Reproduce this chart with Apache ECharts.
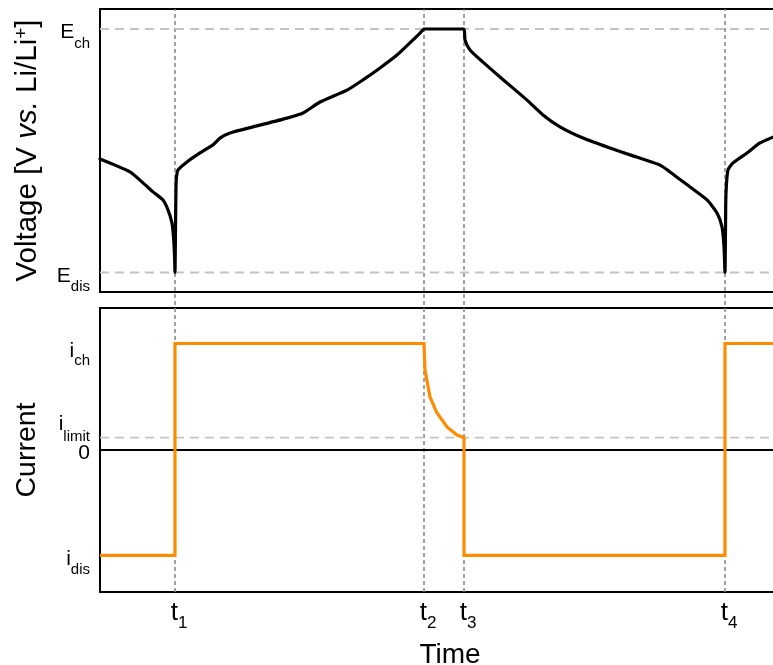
<!DOCTYPE html>
<html>
<head>
<meta charset="utf-8">
<script src="https://cdn.jsdelivr.net/npm/echarts@6/dist/echarts.min.js"></script>
<style>
html,body{margin:0;padding:0;background:#fff;}
#chart{width:773px;height:665px;}
</style>
</head>
<body>
<div id="chart"></div>
<script>
// ---- Data (time in arbitrary units, voltage normalised E_dis=0, E_ch=1; current normalised i_ch=1) ----
const timeV = [0,30,43,53,63,68,72,73.5,74.5,75,75.5,76,76.5,78,87,100,113,120,130,153,187,203,220,247,263,280,297,313,323,324,
  364,365,370,383,400,427,443,460,483,510,530,560,570,590,607,617,622,624,625,625.5,626,628,633,647,660,673];
const voltage = [0.466,0.413,0.368,0.331,0.298,0.257,0.203,0.146,0.072,0,0.175,0.351,0.392,0.421,0.454,0.491,0.524,0.552,0.573,0.598,0.634,0.655,0.700,0.749,0.791,0.840,0.893,0.955,0.996,1,
  1,0.955,0.914,0.864,0.803,0.708,0.647,0.598,0.552,0.511,0.483,0.441,0.413,0.351,0.298,0.244,0.187,0.105,0,0.175,0.326,0.421,0.450,0.491,0.532,0.556];

const timeI = [0,75,75,324,325,330,337,347,357,364,364,625,625,700];
const current = [-0.99,-0.99,1,1,0.751,0.498,0.347,0.216,0.141,0.117,-0.99,-0.99,1,1];

const eventTimes = [75,324,364,625];
const timeTickMain = ['t','t','t','t'];
const timeTickSub = ['1','2','3','4'];

const voltageTickValues = [0,1];
const voltageTickMain = ['E','E'];
const voltageTickSub = ['dis','ch'];

const currentTickValues = [-0.99,0,0.117,1];
const currentTickMain = ['i','0','i','i'];
const currentTickSub = ['dis','','limit','ch'];

const voltageGuides = [0,1];      // E_dis, E_ch
const currentGuides = [0.117];    // i_limit
const currentZero = [0];

const xRange = [0,700];
const vRange = [-0.0801,1.0821];
const iRange = [-1.3333,1.3333];

// ---- Build ----
const FONT = "'Liberation Sans', Arial, sans-serif";
function idxOf(arr, v){ for(let i=0;i<arr.length;i++){ if(Math.abs(arr[i]-v)<1e-6) return i; } return -1; }
function zip(xs, ys){ return xs.map((x,i)=>[x,ys[i]]); }

// middle-aligned token; text centre shifted by d px (positive = down)
function shift(fs, d){
  return {fontSize:fs, lineHeight:20, padding: d>=0 ? [2*d,0,0,0] : [0,0,-2*d,0], verticalAlign:'middle', fontFamily:FONT, color:'#000'};
}
const yRich = {
  m: shift(21, 3.5),
  s: shift(15, 14.5),
  z: shift(21, 3.5),
  mc: shift(21, 7.5),
  sc: shift(15, 17.5),
  ml: shift(21, -13.5),
  sl: shift(15, -1)
};
function yLabel(mainArr, subArr, valArr){
  return function(v){
    const i = idxOf(valArr, v);
    if(i<0) return '';
    const sub = subArr[i];
    if(!sub) return '{z|'+mainArr[i]+'}';
    if(sub==='limit') return '{ml|'+mainArr[i]+'}{sl|'+sub+'}';
    if(mainArr[i]==='i' && sub==='ch') return '{mc|'+mainArr[i]+'}{sc|'+sub+'}';
    return '{m|'+mainArr[i]+'}{s|'+sub+'}';
  };
}

const series = [];
eventTimes.forEach(t=>{
  series.push({type:'line', xAxisIndex:2, yAxisIndex:2, data:[[t,0],[t,1]], symbol:'none', silent:true,
    lineStyle:{color:'#8a8a8a', width:1.6, type:[4,3]}, z:1});
});
voltageGuides.forEach(g=>{
  series.push({type:'line', xAxisIndex:0, yAxisIndex:0, data:[[xRange[0],g],[xRange[1],g]], symbol:'none', silent:true,
    lineStyle:{color:'#c4c4c4', width:1.8, type:[9,6]}, z:1});
});
currentGuides.forEach(g=>{
  series.push({type:'line', xAxisIndex:1, yAxisIndex:1, data:[[xRange[0],g],[xRange[1],g]], symbol:'none', silent:true,
    lineStyle:{color:'#c4c4c4', width:1.8, type:[9,6]}, z:1});
});
currentZero.forEach(g=>{
  series.push({type:'line', xAxisIndex:1, yAxisIndex:1, data:[[xRange[0],g],[xRange[1],g]], symbol:'none', silent:true,
    lineStyle:{color:'#000', width:1.8}, z:2});
});
series.push({type:'line', xAxisIndex:0, yAxisIndex:0, data:zip(timeV, voltage), symbol:'none', silent:true,
  smooth:0.2,
  lineStyle:{color:'#000', width:3.2, join:'round', cap:'round'}, z:3});
series.push({type:'line', xAxisIndex:1, yAxisIndex:1, data:zip(timeI, current), symbol:'none', silent:true,
  lineStyle:{color:'#FF8C00', width:3.2, join:'miter'}, z:3});

const option = {
  animation:false,
  backgroundColor:'#fff',
  grid:[
    {left:100, width:700, top:9, height:283, show:true, borderColor:'#000', borderWidth:2, backgroundColor:'transparent', outerBoundsMode:'none', containLabel:false},
    {left:100, width:700, top:308, height:284, show:true, borderColor:'#000', borderWidth:2, backgroundColor:'transparent', outerBoundsMode:'none', containLabel:false},
    {left:100, width:700, top:9, height:583, show:false, outerBoundsMode:'none', containLabel:false}
  ],
  xAxis:[
    {gridIndex:0, type:'value', min:xRange[0], max:xRange[1], axisLine:{show:false}, axisTick:{show:false}, axisLabel:{show:false}, splitLine:{show:false}},
    {gridIndex:1, type:'value', min:xRange[0], max:xRange[1], axisLine:{show:false}, axisTick:{show:false}, splitLine:{show:false},
      axisLabel:{show:true, margin:8, customValues:eventTimes,
        formatter:function(v){ const i=idxOf(eventTimes,v); return i<0?'':'{tt|'+timeTickMain[i]+'}{ts|'+timeTickSub[i]+'}'; },
        rich:{
          tt:{fontSize:26,lineHeight:30,padding:[0,0,0,8],verticalAlign:'top',fontFamily:FONT,color:'#000'},
          ts:{fontSize:17,lineHeight:17,padding:[14.5,0,0,0],verticalAlign:'top',fontFamily:FONT,color:'#000'}
        }},
      name:'Time', nameLocation:'middle', nameGap:49,
      nameTextStyle:{fontSize:28, fontFamily:FONT, color:'#000'}},
    {gridIndex:2, type:'value', min:xRange[0], max:xRange[1], show:false}
  ],
  yAxis:[
    {gridIndex:0, type:'value', min:vRange[0], max:vRange[1], axisLine:{show:false}, axisTick:{show:false}, splitLine:{show:false},
      axisLabel:{show:true, margin:10, customValues:voltageTickValues, align:'right',
        formatter:yLabel(voltageTickMain, voltageTickSub, voltageTickValues), rich:yRich},
      name:'{a|Voltage [V }{i|vs.}{a| Li/Li}{p|+}{a|]}', nameLocation:'middle', nameGap:57, nameRotate:90,
      nameTextStyle:{fontSize:29.5, fontFamily:FONT, color:'#000', rich:{
        a:{fontSize:29.5,lineHeight:31,verticalAlign:'bottom',fontFamily:FONT,color:'#000'},
        i:{fontSize:29.5,lineHeight:31,verticalAlign:'bottom',fontStyle:'italic',fontFamily:FONT,color:'#000'},
        p:{fontSize:19,lineHeight:19,verticalAlign:'top',fontFamily:FONT,color:'#000'}
      }}},
    {gridIndex:1, type:'value', min:iRange[0], max:iRange[1], axisLine:{show:false}, axisTick:{show:false}, splitLine:{show:false},
      axisLabel:{show:true, margin:10, customValues:currentTickValues, align:'right',
        formatter:yLabel(currentTickMain, currentTickSub, currentTickValues), rich:yRich},
      name:'Current', nameLocation:'middle', nameGap:58, nameRotate:90,
      nameTextStyle:{fontSize:28.5, fontFamily:FONT, color:'#000'}},
    {gridIndex:2, type:'value', min:0, max:1, show:false}
  ],
  series:series
};

const chart = echarts.init(document.getElementById('chart'), null, {renderer:'canvas'});
chart.setOption(option);
</script>
</body>
</html>
